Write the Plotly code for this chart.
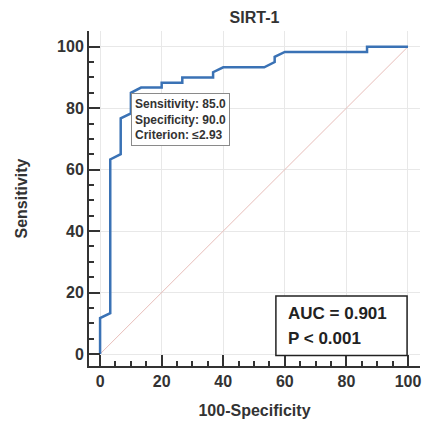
import plotly.graph_objects as go

# ROC curve data (100-Specificity, Sensitivity)
fpr = [0, 0, 3.3, 3.3, 6.7, 6.7, 10.0, 10.0, 13.3, 20.0, 20.0, 26.7, 26.7, 36.7, 36.7, 40.0,
       53.3, 56.7, 56.7, 60.0, 86.7, 86.7, 100]
tpr = [0, 11.7, 13.3, 63.3, 65.0, 76.7, 78.3, 85.0, 86.7, 86.7, 88.3, 88.3, 90.0, 90.0, 91.7, 93.3,
       93.3, 95.0, 96.7, 98.3, 98.3, 100, 100]
diag_x = [0, 100]
diag_y = [0, 100]

crit_point = (10.0, 85.0)
crit_lines = ["Sensitivity: 85.0", "Specificity: 90.0", "Criterion: \u22642.93"]
auc_lines = ["AUC = 0.901", "P < 0.001"]
tick_vals = [0, 20, 40, 60, 80, 100]

FONT = "Liberation Sans, Arial, sans-serif"
DARK = "#333333"

fig = go.Figure()
fig.add_trace(go.Scatter(x=diag_x, y=diag_y, mode="lines",
                         line=dict(color="rgb(232,190,186)", width=1), hoverinfo="skip"))
fig.add_trace(go.Scatter(x=fpr, y=tpr, mode="lines",
                         line=dict(color="#3a72b5", width=2.5), hoverinfo="skip"))

axis_common = dict(
    showline=True, linecolor=DARK, linewidth=2,
    ticks="inside", ticklen=11, tickwidth=2, tickcolor=DARK,
    tickvals=tick_vals,
    minor=dict(dtick=5, ticks="inside", ticklen=5, tickwidth=1.5, tickcolor=DARK, showgrid=False),
    showgrid=True, gridcolor="#e8e8e8", gridwidth=1, zeroline=False,
    tickfont=dict(family=FONT, size=16, color=DARK, weight="bold"),
)

fig.update_layout(
    width=425, height=428,
    margin=dict(l=89, r=5, t=31, b=62),
    paper_bgcolor="white", plot_bgcolor="white",
    showlegend=False,
    title=dict(text="SIRT-1", x=0.5, xref="paper", y=1 - 17 / 428, yanchor="middle",
               font=dict(family=FONT, size=16, color=DARK, weight="bold")),
    xaxis=dict(range=[-3.6, 103.9],
               title=dict(text="100-Specificity", standoff=16,
                          font=dict(family=FONT, size=16, color=DARK, weight="bold")),
               **axis_common),
    yaxis=dict(range=[-3.9, 105.1],
               title=dict(text="Sensitivity", standoff=25,
                          font=dict(family=FONT, size=16, color=DARK, weight="bold")),
               **axis_common),
)

# Criterion tooltip box anchored at criterion point
fig.add_annotation(x=crit_point[0], y=crit_point[1], xref="x", yref="y",
                   text="<br>".join(crit_lines), showarrow=False,
                   xanchor="left", yanchor="top", align="left",
                   font=dict(family=FONT, size=12, color=DARK, weight="bold"),
                   bgcolor="white", bordercolor="#8a8a8a", borderwidth=1, borderpad=3)

# AUC box
fig.add_shape(type="rect", xref="x", yref="y", x0=57.1, x1=99.7, y0=-0.5, y1=18.9,
              line=dict(color="#222222", width=1.5), fillcolor="white", layer="above")
fig.add_annotation(x=60.3, y=13.2, xref="x", yref="y", text=auc_lines[0], showarrow=False,
                   xanchor="left", yanchor="middle",
                   font=dict(family=FONT, size=17, color="#222222", weight="bold"))
fig.add_annotation(x=60.3, y=5.0, xref="x", yref="y", text=auc_lines[1], showarrow=False,
                   xanchor="left", yanchor="middle",
                   font=dict(family=FONT, size=17, color="#222222", weight="bold"))

fig.write_html("out.html")
